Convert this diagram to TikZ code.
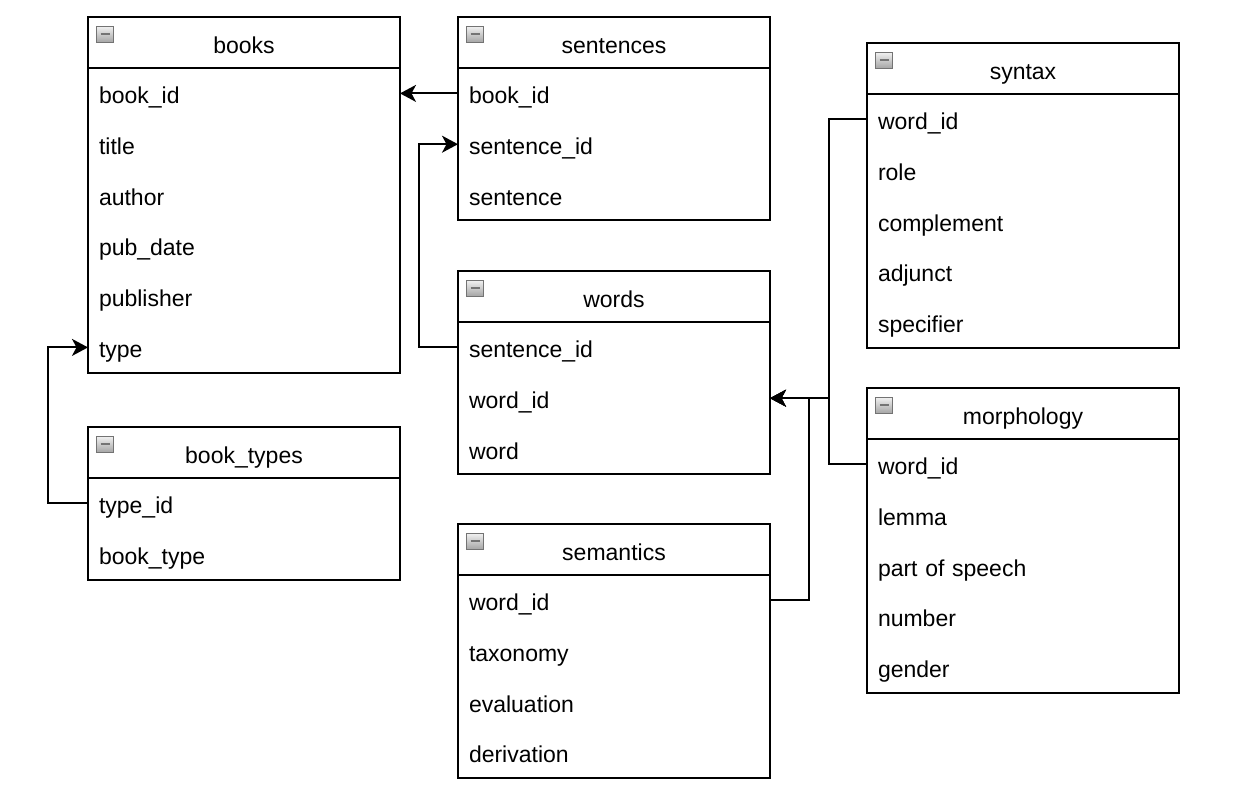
\documentclass[tikz,border=0pt]{standalone}
\usepackage{fontspec}
\setmainfont{Liberation Sans}
\usetikzlibrary{arrows.meta,calc}

% one entity table: name, x, y, number of rows, title, rows
\newcommand\ertable[6]{%
  \node[headbox] (#1) at (#2,#3) {#5};
  \node[bodybox, minimum height=#4*50.8pt] (#1-body) at (#1.south west) {};
  \node[iconbox] (#1-icon) at ($(#1.north west)+(17,17)$) {};
  \foreach \r [count=\i] in {#6} {
    \node[rowbox] (#1-\i) at (#2,{#3+51+(\i-1)*50.8}) {\r};
  }
}

\begin{document}
\begin{tikzpicture}[x=1pt,y=-1pt,
  font=\fontsize{23}{27}\selectfont,
  every node/.style={outer sep=0pt},
  headbox/.style={draw, line width=2pt, minimum width=312pt, minimum height=51pt,
    inner sep=0pt, text height=21pt, text depth=0pt, anchor=north west},
  bodybox/.style={draw, line width=2pt, minimum width=312pt,
    inner sep=0pt, anchor=north west},
  rowbox/.style={minimum width=312pt, text width=290pt, minimum height=50.8pt,
    inner xsep=11pt, inner ysep=0pt, text height=20pt, text depth=0pt,
    align=left, anchor=north west},
  iconbox/.style={draw=black!55, line width=1pt, minimum width=17pt, minimum height=16pt,
    inner sep=0pt, top color=black!5, bottom color=black!35,
    path picture={\draw[line width=2.8pt] ([xshift=4pt]path picture bounding box.west)
      -- ([xshift=-4pt]path picture bounding box.east);}},
  conn/.style={line width=2pt, -{Stealth[length=16pt,width=17pt,inset=4.5pt]}},
]
\useasboundingbox (0,0) rectangle (1234,787);

\ertable{books}{88}{17}{6}{books}{book\_id,title,author,pub\_date,publisher,type}
\ertable{booktypes}{88}{427}{2}{book\_types}{type\_id,book\_type}
\ertable{sentences}{458}{17}{3}{sentences}{book\_id,sentence\_id,sentence}
\ertable{words}{458}{271}{3}{words}{sentence\_id,word\_id,word}
\ertable{semantics}{458}{524}{4}{semantics}{word\_id,taxonomy,evaluation,derivation}
\ertable{syntax}{867}{43}{5}{syntax}{word\_id,role,complement,adjunct,specifier}
\ertable{morphology}{867}{388}{5}{morphology}{word\_id,lemma,part of speech,number,gender}

% foreign keys
\draw[conn] (sentences-1.west) -- (books-1.east);
\draw[conn] (words-1.west) -- ++(-39,0) |- (sentences-2.west);
\draw[conn] (booktypes-1.west) -- ++(-40,0) |- (books-6.west);
\draw[conn] (syntax-1.west) -- ++(-38,0) |- (words-2.east);
\draw[conn] (morphology-1.west) -- ++(-38,0) |- (words-2.east);
\draw[conn] (semantics-1.east) -- ++(39,0) |- (words-2.east);
\end{tikzpicture}
\end{document}
